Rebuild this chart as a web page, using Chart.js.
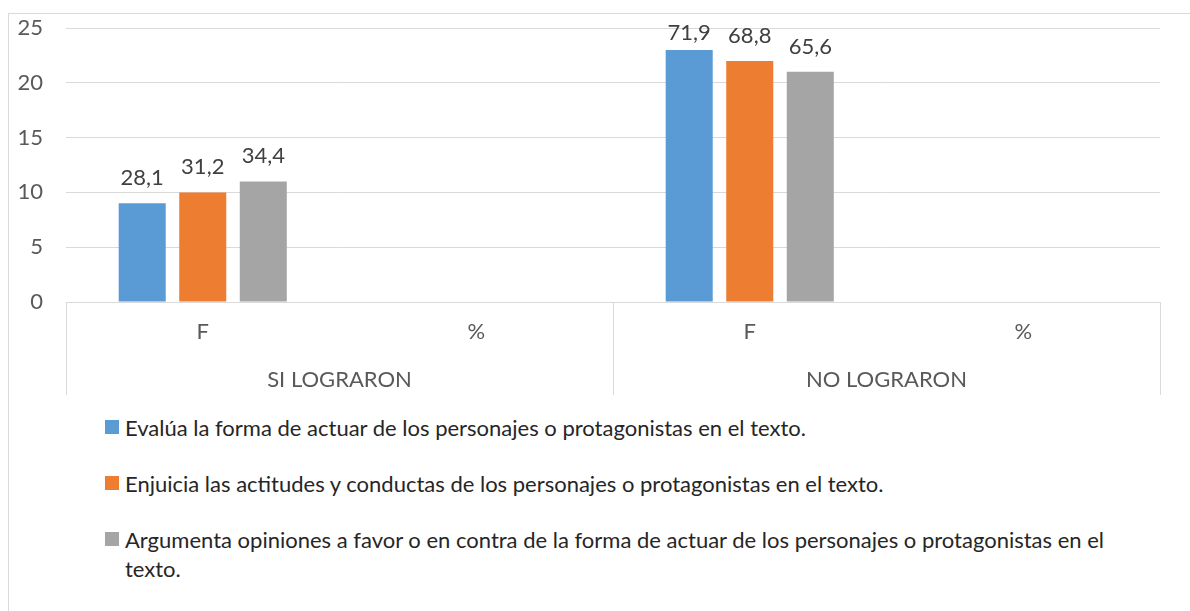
<!DOCTYPE html>
<html>
<head>
<meta charset="utf-8">
<script src="https://cdn.jsdelivr.net/npm/chart.js@4.4.1/dist/chart.umd.min.js"></script>
<style>
  body { margin: 0; background: #fff; font-family: Lato, sans-serif; }
  .marco { position: absolute; left: 8px; top: 13px; width: 1200px; height: 620px; border: 1px solid #d9d9d9; }
  .grafico { position: absolute; left: 0; top: 0; width: 1190px; height: 400px; }
  .leyenda { position: absolute; left: 105px; top: 413px; width: 1040px; margin: 0; padding: 0; list-style: none; }
  .leyenda li { display: flex; align-items: flex-start; font-size: 22px; line-height: 29px; color: #262626; margin-bottom: 27px; }
  .leyenda span.cuadro { flex: none; width: 14px; height: 14px; margin: 7px 6px 0 0; }
</style>
</head>
<body>
<div class="marco"></div>
<div class="grafico"><canvas id="myChart"></canvas></div>
<ul class="leyenda" id="leyenda"></ul>

<script>
// Datos del gráfico
const categorias = ['F', '%', 'F', '%'];
const grupos = ['SI LOGRARON', 'NO LOGRARON'];
const series = [
  'Evalúa la forma de actuar de los personajes o protagonistas en el texto.',
  'Enjuicia las actitudes y conductas de los personajes o protagonistas en el texto.',
  'Argumenta opiniones a favor o en contra de la forma de actuar de los personajes o protagonistas en el texto.'
];
const evaluaF = [9, null, 23, null];
const enjuiciaF = [10, null, 22, null];
const argumentaF = [11, null, 21, null];
const evaluaPct = [28.1, null, 71.9, null];
const enjuiciaPct = [31.2, null, 68.8, null];
const argumentaPct = [34.4, null, 65.6, null];
const ticksY = [0, 5, 10, 15, 20, 25];
const colores = ['#5b9bd5', '#ed7d31', '#a5a5a5'];

const valores = [evaluaF, enjuiciaF, argumentaF];
const porcentajes = [evaluaPct, enjuiciaPct, argumentaPct];
const gris = '#d9d9d9';

Chart.defaults.font.family = 'Lato, sans-serif';
Chart.defaults.font.size = 22;

// Etiquetas encima de las barras (porcentaje), sin salirse del área
const etiquetas = {
  id: 'etiquetas',
  afterDatasetsDraw(chart) {
    const ctx = chart.ctx;
    ctx.save();
    ctx.font = '22px Lato, sans-serif';
    ctx.fillStyle = '#404040';
    ctx.textAlign = 'center';
    ctx.textBaseline = 'alphabetic';
    chart.data.datasets.forEach((ds, i) => {
      chart.getDatasetMeta(i).data.forEach((barra, j) => {
        const p = porcentajes[i][j];
        if (ds.data[j] == null || p == null) return;
        const y = Math.max(barra.y - 18, chart.chartArea.top + 12);
        ctx.fillText(p.toFixed(1).replace('.', ','), barra.x, y);
      });
    });
    ctx.restore();
  }
};

// Solo las líneas que separan los grupos
const lineaGrupo = (ctx) => (ctx.type !== 'tick' || ctx.index % 2 === 0) ? gris : 'rgba(0,0,0,0)';

const Grafico = document.getElementById('myChart');
new Chart(Grafico, {
  type: 'bar',
  data: {
    labels: categorias,
    datasets: series.map((nombre, i) => ({
      label: nombre,
      data: valores[i],
      backgroundColor: colores[i],
      borderWidth: 0,
      categoryPercentage: 0.664,
      barPercentage: 0.777
    }))
  },
  options: {
    responsive: true,
    maintainAspectRatio: false,
    animation: false,
    layout: { padding: { top: 28, right: 30, left: 0, bottom: 5 } },
    plugins: { legend: { display: false }, tooltip: { enabled: false } },
    scales: {
      y: {
        min: 0,
        max: 25,
        afterBuildTicks: (scale) => { scale.ticks = ticksY.map(v => ({ value: v })); },
        afterFit: (scale) => {
          scale.width = 66;
          scale.paddingTop = 0;
          scale.paddingBottom = 0;
        },
        grid: { color: gris, drawTicks: false },
        border: { display: false },
        ticks: { color: '#595959', padding: 23 }
      },
      x: {
        weight: 0,
        offset: true,
        afterFit: (scale) => { scale.height = 46; },
        grid: { drawOnChartArea: false, offset: true, tickLength: 46, color: lineaGrupo, tickColor: lineaGrupo },
        border: { display: true, color: gris },
        ticks: { color: '#595959', padding: -29, maxRotation: 0, autoSkip: false }
      },
      x2: {
        type: 'category',
        position: 'bottom',
        weight: 1,
        labels: grupos,
        offset: true,
        afterFit: (scale) => { scale.height = 47; },
        grid: { drawOnChartArea: false, offset: true, tickLength: 47, color: gris, tickColor: gris },
        border: { display: false },
        ticks: { color: '#595959', padding: -28, maxRotation: 0, autoSkip: false }
      }
    }
  },
  plugins: [etiquetas]
});

// Leyenda en HTML para que el texto se ajuste en varias líneas
const leyenda = document.getElementById('leyenda');
series.forEach((nombre, i) => {
  const li = document.createElement('li');
  li.innerHTML = '<span class="cuadro" style="background:' + colores[i] + '"></span><span>' + nombre + '</span>';
  leyenda.appendChild(li);
});
</script>
</body>
</html>
